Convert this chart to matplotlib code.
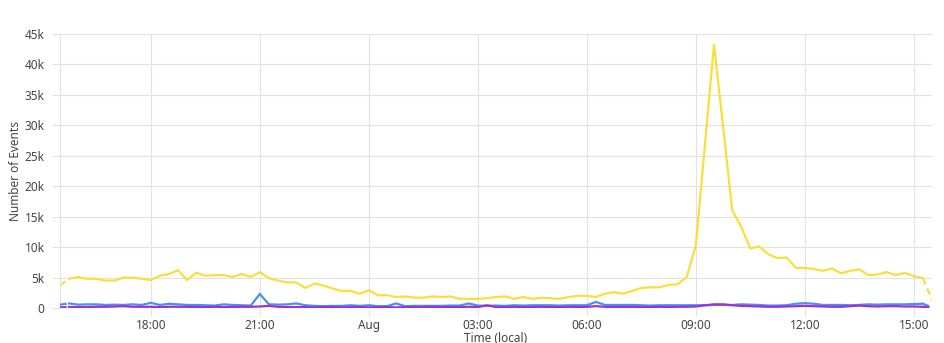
import matplotlib
matplotlib.use("Agg")
import matplotlib.pyplot as plt
import numpy as np
import pandas as pd

plt.rcParams['font.family'] = ['Noto Sans', 'DejaVu Sans']

# ---- data (values in thousands of events, 15-minute buckets) ----
start_time = "2023-07-31 15:30"
n_points = 97
interval = "15min"

series_yellow = [3.7, 4.8, 5.1, 4.8, 4.8, 4.5, 4.5, 5.0, 5.0, 4.8,
                 4.6, 5.3, 5.6, 6.2, 4.6, 5.8, 5.3, 5.4, 5.4, 5.1,
                 5.6, 5.1, 5.9, 4.9, 4.5, 4.2, 4.2, 3.3, 4.0, 3.7,
                 3.2, 2.8, 2.8, 2.35, 2.9, 2.1, 2.1, 1.8, 1.9, 1.7,
                 1.7, 1.9, 1.8, 1.9, 1.5, 1.5, 1.5, 1.6, 1.8, 1.9,
                 1.5, 1.8, 1.5, 1.7, 1.6, 1.5, 1.8, 2.0, 2.0, 1.8,
                 2.35, 2.6, 2.35, 2.8, 3.3, 3.4, 3.4, 3.8, 3.9, 5.1,
                 10.3, 26.8, 43.3, 29.8, 16.1, 13.3, 9.8, 10.1, 8.8, 8.2,
                 8.3, 6.6, 6.6, 6.4, 6.1, 6.5, 5.7, 6.1, 6.35, 5.4,
                 5.5, 5.9, 5.4, 5.75, 5.25, 4.9, 1.3]

series_blue = [0.55, 0.75, 0.55, 0.6, 0.6, 0.5, 0.55, 0.5, 0.6, 0.5,
               0.85, 0.5, 0.7, 0.6, 0.5, 0.5, 0.45, 0.4, 0.6, 0.5,
               0.45, 0.4, 2.3, 0.6, 0.55, 0.6, 0.75, 0.45, 0.35, 0.3,
               0.35, 0.35, 0.45, 0.35, 0.45, 0.3, 0.3, 0.75, 0.3, 0.35,
               0.35, 0.35, 0.35, 0.4, 0.4, 0.75, 0.4, 0.35, 0.4, 0.35,
               0.45, 0.4, 0.45, 0.45, 0.45, 0.4, 0.45, 0.45, 0.45, 1.0,
               0.5, 0.5, 0.5, 0.5, 0.45, 0.4, 0.45, 0.45, 0.45, 0.45,
               0.45, 0.45, 0.5, 0.5, 0.5, 0.6, 0.55, 0.5, 0.4, 0.4,
               0.45, 0.7, 0.8, 0.7, 0.5, 0.5, 0.5, 0.45, 0.5, 0.6,
               0.55, 0.6, 0.6, 0.6, 0.65, 0.7, 0.1]

series_purple = [0.1, 0.15, 0.15, 0.15, 0.2, 0.2, 0.25, 0.3, 0.2, 0.2,
                 0.2, 0.15, 0.2, 0.2, 0.2, 0.15, 0.15, 0.2, 0.15, 0.15,
                 0.2, 0.2, 0.25, 0.35, 0.2, 0.15, 0.15, 0.15, 0.1, 0.15,
                 0.15, 0.1, 0.15, 0.15, 0.1, 0.15, 0.15, 0.1, 0.15, 0.15,
                 0.15, 0.2, 0.15, 0.15, 0.15, 0.2, 0.15, 0.45, 0.15, 0.15,
                 0.2, 0.15, 0.15, 0.2, 0.15, 0.15, 0.2, 0.15, 0.2, 0.3,
                 0.2, 0.15, 0.15, 0.2, 0.15, 0.15, 0.2, 0.15, 0.2, 0.2,
                 0.25, 0.45, 0.6, 0.6, 0.45, 0.35, 0.3, 0.25, 0.2, 0.2,
                 0.25, 0.3, 0.35, 0.3, 0.25, 0.2, 0.2, 0.3, 0.4, 0.3,
                 0.25, 0.3, 0.3, 0.25, 0.25, 0.2, 0.05]

tick_times = ["2023-07-31 18:00", "2023-07-31 21:00", "2023-08-01 00:00",
              "2023-08-01 03:00", "2023-08-01 06:00", "2023-08-01 09:00",
              "2023-08-01 12:00", "2023-08-01 15:00"]
tick_labels = ["18:00", "21:00", "Aug", "03:00", "06:00", "09:00", "12:00", "15:00"]
y_ticks = [0, 5, 10, 15, 20, 25, 30, 35, 40, 45]
y_tick_labels = ["0", "5k", "10k", "15k", "20k", "25k", "30k", "35k", "40k", "45k"]

colors = {"yellow": "#f9df3c", "blue": "#4d8ef2", "purple": "#9b32d6"}

# ---- plot ----
times = pd.date_range(start_time, periods=n_points, freq=interval)
fig = plt.figure(figsize=(9.44, 3.43), dpi=100)
ax = fig.add_axes([60 / 944, 35 / 343, 872 / 944, 274 / 343])

grid_c = "#e2e2e2"
for name, vals in [("blue", series_blue), ("purple", series_purple), ("yellow", series_yellow)]:
    v = np.array(vals) * 1000
    c = colors[name]
    z = 3 if name != "yellow" else 2
    ax.plot(times[1:-1], v[1:-1], color=c, lw=1.6, solid_joinstyle="miter", zorder=z)
    ax.plot(times[:2], v[:2], color=c, lw=1.6, ls=(0, (3, 2)), zorder=z)
    ax.plot(times[-2:], v[-2:], color=c, lw=1.6, ls=(0, (3, 2)), zorder=z)

ax.set_xlim(times[0], times[-1])
ax.set_ylim(0, 45000)
ax.set_yticks([t * 1000 for t in y_ticks])
ax.set_yticklabels(y_tick_labels)
ax.set_xticks(pd.to_datetime(tick_times))
ax.set_xticklabels(tick_labels)

ax.grid(True, color=grid_c, lw=0.8, zorder=0)
for s in ["top", "right", "bottom"]:
    ax.spines[s].set_visible(False)
ax.spines["left"].set_color(grid_c)
ax.spines["left"].set_linewidth(0.8)
ax.tick_params(axis="both", colors=grid_c, labelcolor="#444444", labelsize=8.5,
               length=6, width=0.8)
ax.tick_params(axis="y", pad=5)
ax.tick_params(axis="x", pad=2)

ax.set_ylabel("Number of Events", fontsize=8.5, color="#444444", labelpad=2)
ax.set_xlabel("Time (local)", fontsize=8.5, color="#444444")
ax.xaxis.set_label_coords(0.5, -0.087)

fig.savefig("out.png", dpi=100)
